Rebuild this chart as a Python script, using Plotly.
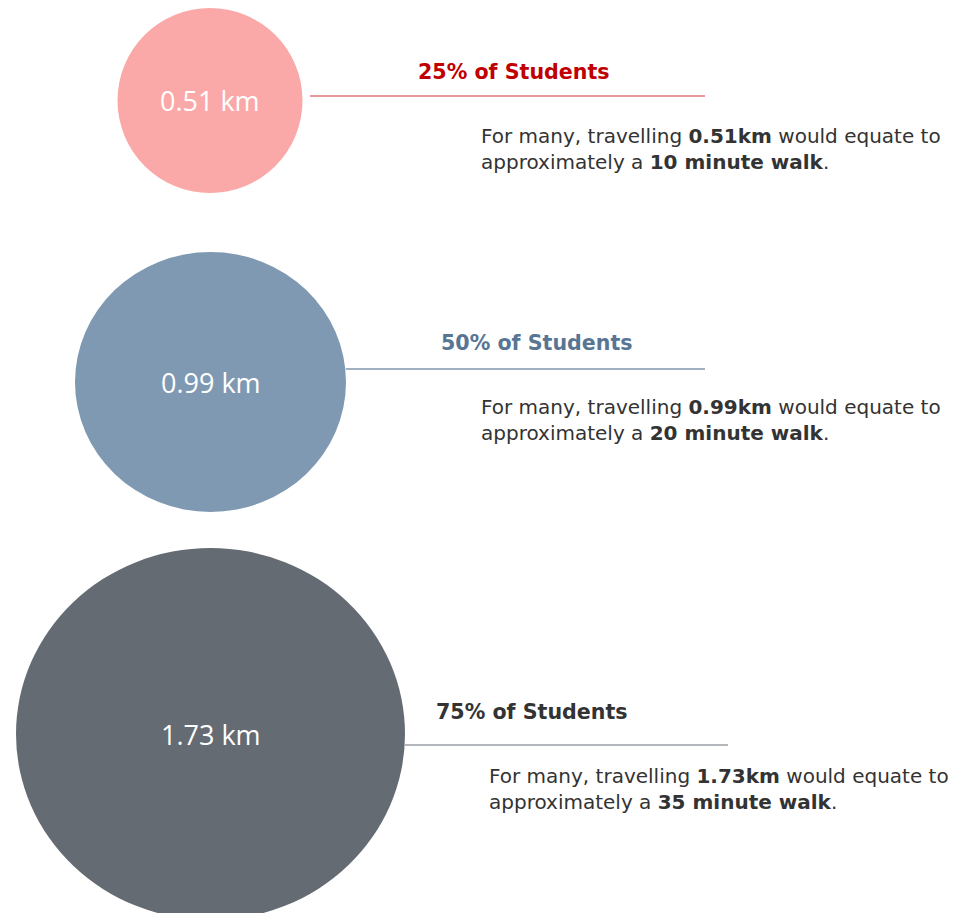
import plotly.graph_objects as go

# ---- data ----
distances_km = [0.51, 0.99, 1.73]
percentiles = ["25%", "50%", "75%"]
walk_minutes = [10, 20, 35]

# ---- layout / style (pixel space) ----
W, H = 957, 913
cx = [210, 210.5, 210.5]
cy = [100.5, 382, 734]
rx = [92.5, 135.5, 194.5]
ry = [92.5, 130, 186]
circle_colors = ["#FBA9A8", "#7F99B2", "#646B72"]
title_colors = ["#C00000", "#587593", "#333333"]
line_colors = ["#E0777B", "#8297AE", "#9A9EA3"]
line_x0 = [310, 346, 405]
line_x1 = [705, 705, 728]
line_y = [96, 369, 745]
title_x = [514, 537, 532]
title_y = [72, 343, 712]
body_x = [479, 479, 487]
body_y = [148.5, 419.5, 788.5]

FONT_BODY = "DejaVu Sans"
fig = go.Figure()
shapes = []
annotations = []
for i in range(3):
    shapes.append(dict(type="circle", xref="x", yref="y",
                       x0=cx[i] - rx[i], x1=cx[i] + rx[i],
                       y0=cy[i] - ry[i], y1=cy[i] + ry[i],
                       fillcolor=circle_colors[i], line=dict(width=0), layer="below"))
    shapes.append(dict(type="line", xref="x", yref="y",
                       x0=line_x0[i], x1=line_x1[i], y0=line_y[i], y1=line_y[i],
                       line=dict(color=line_colors[i], width=1.3)))
    annotations.append(dict(x=cx[i], y=cy[i], xref="x", yref="y",
                            text=f"{distances_km[i]:.2f} km", showarrow=False,
                            font=dict(family="Open Sans", size=27, color="white"),
                            xanchor="center", yanchor="middle"))
    annotations.append(dict(x=title_x[i], y=title_y[i], xref="x", yref="y",
                            text=f"<b>{percentiles[i]} of Students</b>", showarrow=False,
                            font=dict(family=FONT_BODY, size=20.6, color=title_colors[i]),
                            xanchor="center", yanchor="middle"))
    annotations.append(dict(x=body_x[i], y=body_y[i], xref="x", yref="y",
                            text=(f"For many, travelling <b>{distances_km[i]:.2f}km</b> would equate to"
                                  f"<br>approximately a <b>{walk_minutes[i]} minute walk</b>."),
                            showarrow=False, align="left",
                            font=dict(family=FONT_BODY, size=20, color="#333333"),
                            xanchor="left", yanchor="middle"))

fig.add_trace(go.Scatter(x=[0, W], y=[0, H], mode="markers",
                         marker=dict(opacity=0), hoverinfo="skip", showlegend=False))
fig.update_layout(width=W, height=H, margin=dict(l=0, r=0, t=0, b=0),
                  paper_bgcolor="white", plot_bgcolor="white",
                  shapes=shapes, annotations=annotations, showlegend=False,
                  xaxis=dict(range=[0, W], visible=False, fixedrange=True),
                  yaxis=dict(range=[H, 0], visible=False, fixedrange=True))
fig.write_html("out.html")
